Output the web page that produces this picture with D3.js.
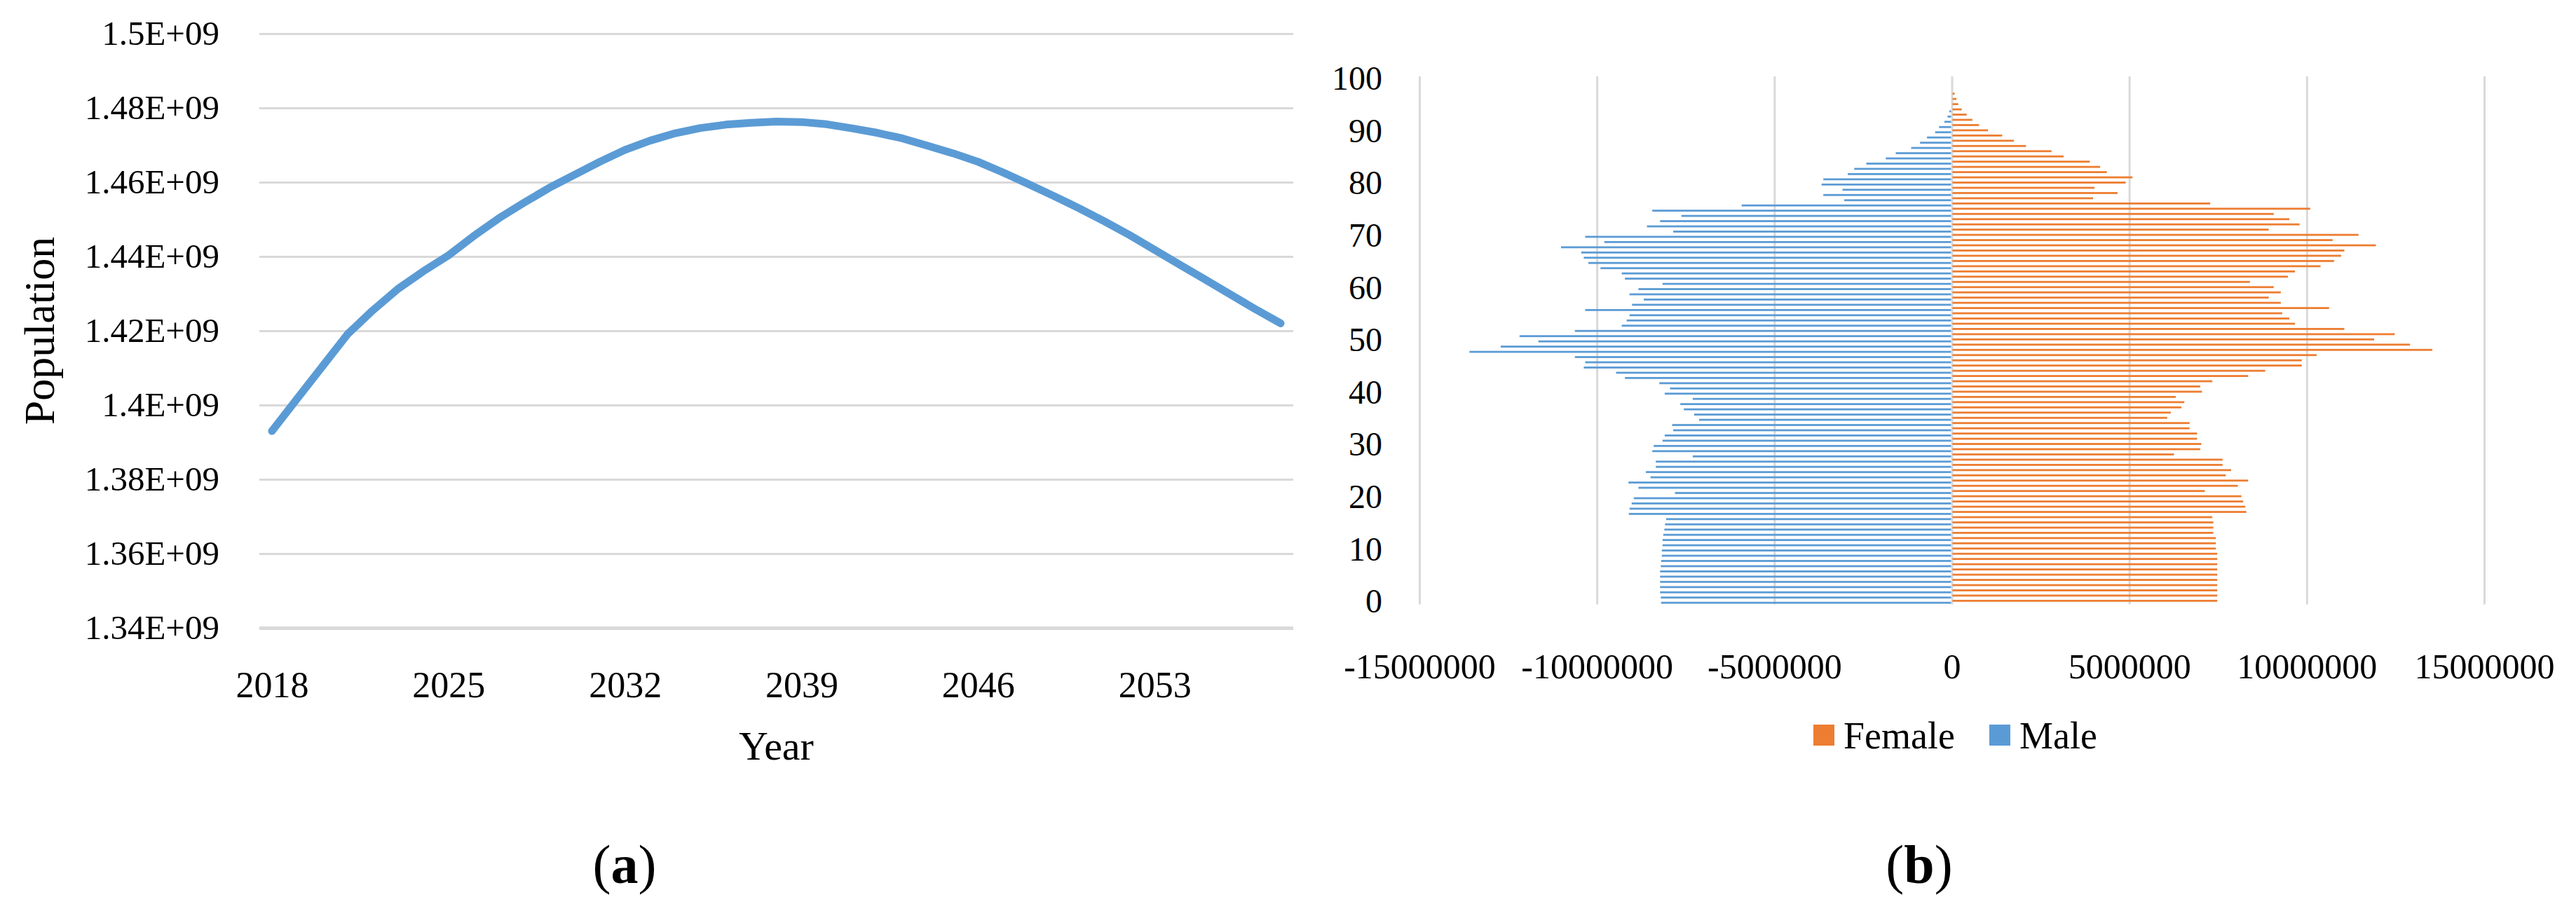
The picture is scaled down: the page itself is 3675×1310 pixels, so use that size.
<!DOCTYPE html>
<html>
<head>
<meta charset="utf-8">
<script src="https://cdn.jsdelivr.net/npm/d3@7"></script>
<style>
html,body{margin:0;padding:0;background:#fff;}
svg{display:block;}
</style>
</head>
<body>
<svg id="chart" width="3675" height="1310"></svg>
<script>
// ---------------- (a) total population ----------------
const years = [2018,2019,2020,2021,2022,2023,2024,2025,2026,2027,2028,2029,2030,2031,2032,2033,2034,2035,2036,2037,2038,2039,2040,2041,2042,2043,2044,2045,2046,2047,2048,2049,2050,2051,2052,2053,2054,2055,2056,2057,2058];
const population = [1.3930e9,1.4017e9,1.4104e9,1.4191e9,1.4255e9,1.4313e9,1.4360e9,1.4403e9,1.4455e9,1.4503e9,1.4545e9,1.4585e9,1.4620e9,1.4655e9,1.4687e9,1.4712e9,1.4732e9,1.4746e9,1.4755e9,1.4760e9,1.4763e9,1.4762e9,1.4756e9,1.4745e9,1.4733e9,1.4718e9,1.4698e9,1.4678e9,1.4655e9,1.4626e9,1.4595e9,1.4563e9,1.4530e9,1.4495e9,1.4458e9,1.4418e9,1.4378e9,1.4338e9,1.4298e9,1.4258e9,1.4220e9];
const yearTickLabels = [2018,2025,2032,2039,2046,2053];
const populationTicks = [1.34e9,1.36e9,1.38e9,1.40e9,1.42e9,1.44e9,1.46e9,1.48e9,1.50e9];

// ---------------- (b) age pyramid ----------------
const ages = [0,1,2,3,4,5,6,7,8,9,10,11,12,13,14,15,16,17,18,19,20,21,22,23,24,25,26,27,28,29,30,31,32,33,34,35,36,37,38,39,40,41,42,43,44,45,46,47,48,49,50,51,52,53,54,55,56,57,58,59,60,61,62,63,64,65,66,67,68,69,70,71,72,73,74,75,76,77,78,79,80,81,82,83,84,85,86,87,88,89,90,91,92,93,94,95,96,97,98,99,100];
const femaleValues = [
 7.46e6,7.46e6,7.46e6,7.46e6,7.46e6,7.46e6,7.46e6,7.46e6,7.46e6,7.46e6,
 7.42e6,7.42e6,7.42e6,7.35e6,7.35e6,7.35e6,7.32e6,8.28e6,8.25e6,8.19e6,
 8.14e6,7.11e6,8.04e6,8.33e6,7.70e6,7.85e6,7.61e6,7.61e6,6.24e6,6.98e6,
 7.01e6,6.89e6,6.89e6,6.68e6,6.68e6,6.05e6,6.15e6,6.45e6,6.53e6,6.29e6,
 7.03e6,6.98e6,7.32e6,8.33e6,8.81e6,9.84e6,9.84e6,10.26e6,13.52e6,12.89e6,
 11.88e6,12.46e6,11.04e6,9.65e6,9.49e6,9.29e6,10.61e6,9.25e6,8.91e6,9.25e6,
 9.05e6,8.38e6,9.45e6,9.65e6,10.37e6,10.75e6,10.95e6,11.04e6,11.93e6,10.71e6,
 11.44e6,8.91e6,9.78e6,9.49e6,9.05e6,10.08e6,7.26e6,3.96e6,4.65e6,4.00e6,
 4.88e6,5.07e6,4.35e6,4.16e6,3.87e6,3.13e6,2.79e6,2.07e6,1.73e6,1.40e6,
 1.00e6,0.75e6,0.56e6,0.40e6,0.26e6,0.16e6,0.11e6,0.06e6,0,0,0];
const maleValues = [
 8.17e6,8.18e6,8.20e6,8.20e6,8.20e6,8.20e6,8.20e6,8.18e6,8.17e6,8.15e6,
 8.15e6,8.13e6,8.13e6,8.11e6,8.08e6,8.06e6,8.03e6,9.08e6,9.06e6,9.00e6,
 8.94e6,7.78e6,8.81e6,9.09e6,8.47e6,8.60e6,8.32e6,8.32e6,7.28e6,8.42e6,
 8.38e6,8.13e6,8.07e6,7.83e6,7.86e6,7.10e6,7.24e6,7.53e6,7.63e6,7.28e6,
 8.07e6,7.92e6,8.22e6,9.19e6,9.44e6,10.35e6,10.31e6,10.60e6,13.57e6,12.69e6,
 11.63e6,12.16e6,10.60e6,9.28e6,9.14e6,9.06e6,10.31e6,8.99e6,8.66e6,9.06e6,
 8.81e6,8.13e6,9.19e6,9.28e6,9.88e6,10.22e6,10.35e6,10.42e6,10.99e6,9.77e6,
 10.31e6,7.83e6,8.57e6,8.20e6,7.60e6,8.42e6,5.90e6,3.01e6,3.60e6,3.06e6,
 3.65e6,3.60e6,2.91e6,2.73e6,2.39e6,1.84e6,1.56e6,1.125e6,0.875e6,0.68e6,
 0.45e6,0.34e6,0.19e6,0.10e6,0.05e6,0,0,0,0,0,0];
const ageTickLabels = [0,10,20,30,40,50,60,70,80,90,100];
const pyramidTicks = [-15000000,-10000000,-5000000,0,5000000,10000000,15000000];
const legendLabels = ["Female","Male"];
const captions = ["a","b"];

const FONT = "'Palatino Linotype','Book Antiqua',Palatino,'Liberation Serif','Times New Roman',serif";
const BLUE = "#5B9BD5", ORANGE = "#ED7D31", GRID = "#D9D9D9";

const svg = d3.select("#chart");
svg.append("rect").attr("width",3675).attr("height",1310).attr("fill","#fff");

// ================= Chart (a) =================
const A = {left:370, right:1845, top:48, bottom:896};
const xA = d3.scalePoint().domain(years).range([A.left, A.right]).padding(0.5);
const yA = d3.scaleLinear().domain([1.34e9, 1.5e9]).range([A.bottom, A.top]);
const gA = svg.append("g");

gA.append("g").attr("transform",`translate(${A.left},0)`)
  .call(d3.axisLeft(yA).tickValues(populationTicks).tickSize(-(A.right-A.left)).tickFormat(""))
  .call(g=>g.select(".domain").remove())
  .call(g=>g.selectAll(".tick line").attr("stroke",GRID).attr("stroke-width",d=>d===1.34e9?5:3));

const fmtPop = d => (d/1e9).toFixed(2).replace(/0+$/,"").replace(/\.$/,"") + "E+09";
gA.append("g").attr("transform",`translate(${A.left},0)`)
  .call(d3.axisLeft(yA).tickValues(populationTicks).tickSize(0).tickPadding(57).tickFormat(fmtPop))
  .call(g=>g.select(".domain").remove())
  .call(g=>g.selectAll("text").attr("font-family",FONT).attr("font-size",49).attr("fill","#000"));

gA.append("g").attr("transform",`translate(0,${A.bottom})`)
  .call(d3.axisBottom(xA).tickValues(yearTickLabels).tickSize(0).tickPadding(62))
  .call(g=>g.select(".domain").remove())
  .call(g=>g.selectAll("text").attr("font-family",FONT).attr("font-size",52).attr("fill","#000"));

gA.append("path")
  .datum(years.map((y,i)=>[y,population[i]]))
  .attr("fill","none").attr("stroke",BLUE).attr("stroke-width",11)
  .attr("stroke-linejoin","round").attr("stroke-linecap","round")
  .attr("d", d3.line().x(d=>xA(d[0])).y(d=>yA(d[1])));

gA.append("text").attr("x",(A.left+A.right)/2).attr("y",1064).attr("dy","0.35em")
  .attr("text-anchor","middle").attr("font-family",FONT).attr("font-size",58).text("Year");
gA.append("text").attr("transform",`translate(55,${(A.top+A.bottom)/2}) rotate(-90)`).attr("dy","0.35em")
  .attr("text-anchor","middle").attr("font-family",FONT).attr("font-size",62).text("Population");

// ================= Chart (b) =================
const B = {left:2025, right:3544, top:109, bottom:862.5};
const xB = d3.scaleLinear().domain([-15000000,15000000]).range([B.left,B.right]);
const yB = d3.scaleBand().domain(ages.slice().reverse()).range([B.top,B.bottom]);
const gB = svg.append("g");

gB.append("g").attr("transform",`translate(0,${B.bottom})`)
  .call(d3.axisBottom(xB).tickValues(pyramidTicks).tickSize(-(B.bottom-B.top)).tickFormat(""))
  .call(g=>g.select(".domain").remove())
  .call(g=>g.selectAll(".tick line").attr("stroke",GRID).attr("stroke-width",3));

gB.append("g").attr("transform",`translate(0,${B.bottom})`)
  .call(d3.axisBottom(xB).tickValues(pyramidTicks).tickSize(0).tickPadding(70).tickFormat(d=>String(d)))
  .call(g=>g.select(".domain").remove())
  .call(g=>g.selectAll("text").attr("font-family",FONT).attr("font-size",50).attr("fill","#000"));

gB.append("g").attr("transform",`translate(${B.left},0)`)
  .call(d3.axisLeft(yB).tickValues(ageTickLabels).tickSize(0).tickPadding(53))
  .call(g=>g.select(".domain").remove())
  .call(g=>g.selectAll("text").attr("font-family",FONT).attr("font-size",48).attr("fill","#000"));

const bw = yB.bandwidth();
const th = 2.8;
gB.append("g").selectAll("rect").data(ages.filter((a,i)=>femaleValues[i]>0)).join("rect")
  .attr("x", xB(0)+1)
  .attr("y", a => yB(a) + bw/2 - th)
  .attr("width", a => xB(femaleValues[a]) - xB(0))
  .attr("height", th).attr("fill", ORANGE);
gB.append("g").selectAll("rect").data(ages.filter((a,i)=>maleValues[i]>0)).join("rect")
  .attr("x", a => xB(-maleValues[a])-1)
  .attr("y", a => yB(a) + bw/2)
  .attr("width", a => xB(0) - xB(-maleValues[a]))
  .attr("height", th).attr("fill", BLUE);

const legX = [2587, 2838];
const legColors = [ORANGE, BLUE];
legendLabels.forEach((lab,i)=>{
  gB.append("rect").attr("x",legX[i]).attr("y",1034).attr("width",30).attr("height",30).attr("fill",legColors[i]);
  gB.append("text").attr("x",legX[i]+43).attr("y",1049).attr("dy","0.35em")
    .attr("font-family",FONT).attr("font-size",54).attr("fill","#000").text(lab);
});

const capX = [891, 2738];
captions.forEach((c,i)=>{
  const t = svg.append("text").attr("x",capX[i]).attr("y",1260).attr("text-anchor","middle")
    .attr("font-family",FONT).attr("font-size",78).attr("fill","#000");
  t.append("tspan").text("(");
  t.append("tspan").attr("font-weight","bold").text(c);
  t.append("tspan").text(")");
});
</script>
</body>
</html>
